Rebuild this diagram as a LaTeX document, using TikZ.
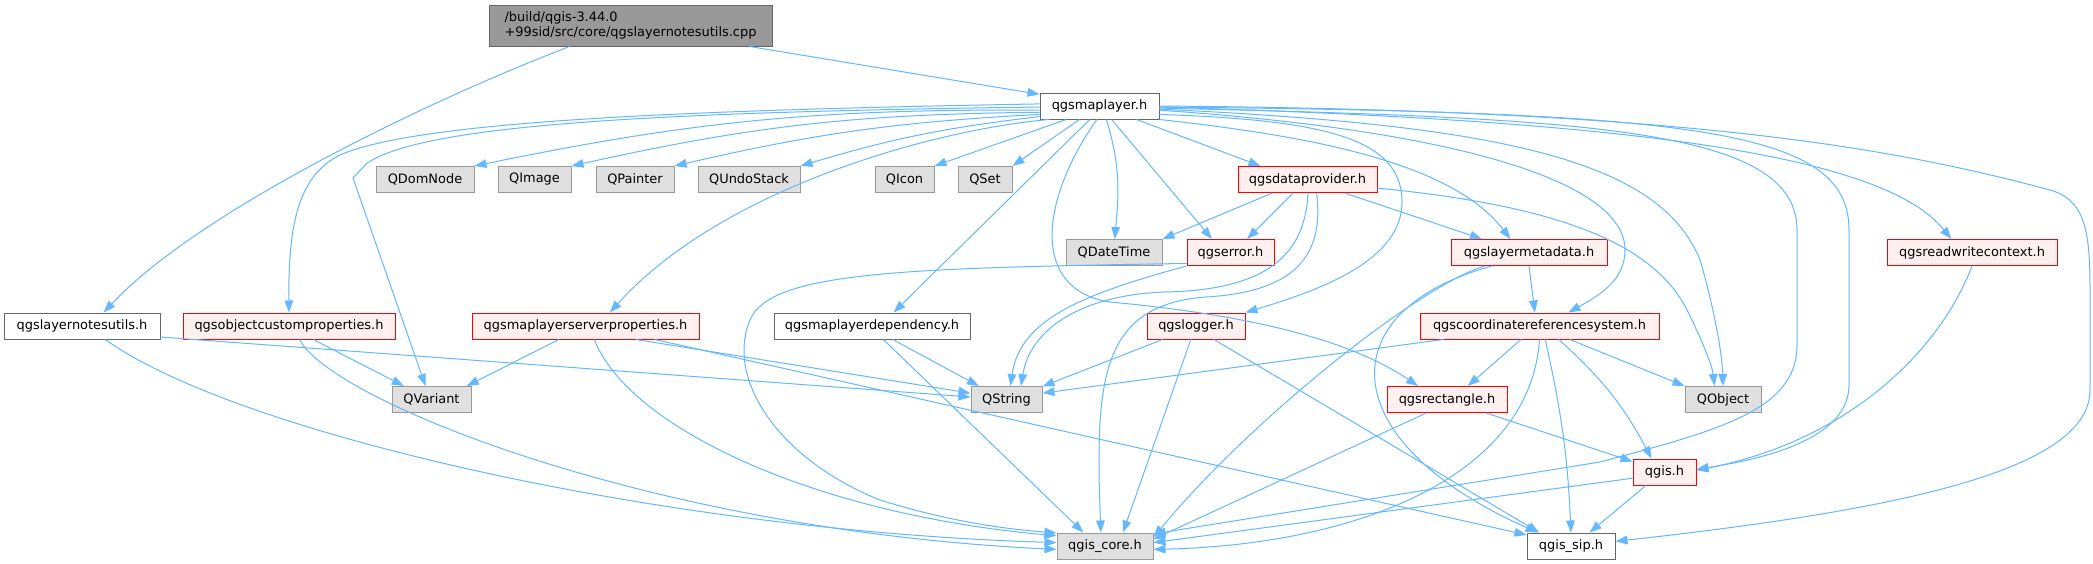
\documentclass[tikz,border=0pt]{standalone}
\usepackage{fontspec}
\setmainfont{DejaVu Sans}
\usepackage{xcolor}
\usetikzlibrary{arrows.meta}

\definecolor{kante}{HTML}{63B8FF}
\definecolor{grauFill}{HTML}{E0E0E0}
\definecolor{grauRand}{HTML}{999999}
\definecolor{rotFill}{HTML}{FFF0F0}
\definecolor{rotRand}{HTML}{FF0000}
\definecolor{weissRand}{HTML}{666666}
\definecolor{wurzelFill}{HTML}{999999}

\tikzset{
    datei/.style = {draw, line width=0.75pt, inner xsep=1pt, inner ysep=0pt, minimum height=19.5pt, font=\fontsize{9.7pt}{11.3pt}\selectfont},
    breite/.style = {minimum width=#1*0.75pt},
    grau/.style = {datei, draw=grauRand, fill=grauFill},
    rot/.style = {datei, draw=rotRand, fill=rotFill},
    weiss/.style = {datei, draw=weissRand, fill=white},
    wurzel/.style = {datei, draw=weissRand, fill=wurzelFill, align=left, minimum height=30.75pt},
    pfeil/.style = {draw=kante, line width=0.75pt, -{Triangle[length=9pt, width=6.5pt]}}
}

\begin{document}
\begin{tikzpicture}[x=0.75pt, y=-0.75pt]
    % Bildgröße
        \fill[white] (0, 0) rectangle (2093, 564);
        \useasboundingbox (0, 0) rectangle (2093, 564);

    % Quelldatei
        \node[wurzel, breite=283] (root) at (630.5, 25.5) {/build/qgis-3.44.0\\+99sid/src/core/qgslayernotesutils.cpp};

    % Ebene 1
        \node[weiss, breite=119] (maplayer) at (1099.5, 106) {qgsmaplayer.h};

    % Ebene 2
        \node[grau, breite=98] (QDomNode) at (425, 179.5) {QDomNode};
        \node[grau, breite=73] (QImage) at (534.5, 179.5) {QImage};
        \node[grau, breite=78] (QPainter) at (635, 179.5) {QPainter};
        \node[grau, breite=102] (QUndoStack) at (749, 179.5) {QUndoStack};
        \node[grau, breite=59] (QIcon) at (904.5, 179.5) {QIcon};
        \node[grau, breite=54] (QSet) at (985, 179.5) {QSet};
        \node[rot, breite=139] (dataprovider) at (1307.5, 179.5) {qgsdataprovider.h};

    % Ebene 3
        \node[grau, breite=96] (QDateTime) at (1114, 252.5) {QDateTime};
        \node[rot, breite=87] (error) at (1230.5, 252.5) {qgserror.h};
        \node[rot, breite=156] (layermeta) at (1529, 252.5) {qgslayermetadata.h};
        \node[rot, breite=170] (readwrite) at (1972, 252.5) {qgsreadwritecontext.h};

    % Ebene 4
        \node[weiss, breite=156] (notesutils) at (82, 326) {qgslayernotesutils.h};
        \node[rot, breite=212] (objcust) at (289, 326) {qgsobjectcustomproperties.h};
        \node[rot, breite=227] (serverprops) at (585.5, 326) {qgsmaplayerserverproperties.h};
        \node[weiss, breite=196] (dependency) at (872, 326) {qgsmaplayerdependency.h};
        \node[rot, breite=98] (logger) at (1196, 326) {qgslogger.h};
        \node[rot, breite=239] (crs) at (1539.5, 326) {qgscoordinatereferencesystem.h};

    % Ebene 5
        \node[grau, breite=79] (QVariant) at (431.5, 399.5) {QVariant};
        \node[grau, breite=71] (QString) at (1006.5, 399.5) {QString};
        \node[rot, breite=120] (rectangle) at (1447, 399.5) {qgsrectangle.h};
        \node[grau, breite=76] (QObject) at (1723, 399.5) {QObject};

    % Ebene 6
        \node[rot, breite=63] (qgis) at (1664.5, 472) {qgis.h};

    % Ebene 7
        \node[grau, breite=96] (core) at (1105, 546) {qgis\_core.h};
        \node[weiss, breite=88] (sip) at (1571, 546) {qgis\_sip.h};

    % Verbindungen der Quelldatei
        \draw[pfeil] (root.-10.7) -- (maplayer.169.5);
        \draw[pfeil] (root.199) .. controls (430, 100) and (200, 210) .. (notesutils.32);

    % Verbindungen von qgsmaplayer.h
        \draw[pfeil] (maplayer.184) to[bend right=6] (QDomNode.north east);
        \draw[pfeil] (maplayer.186) to[bend right=6] (QImage.north east);
        \draw[pfeil] (maplayer.188) to[bend right=5] (QPainter.north east);
        \draw[pfeil] (maplayer.190) to[bend right=5] (QUndoStack.north east);
        \draw[pfeil] (maplayer.202) -- (QIcon.north east);
        \draw[pfeil] (maplayer.214) -- (QSet.north east);
        \draw[pfeil] (maplayer.297) .. controls (1122, 170) and (1118, 200) .. (QDateTime.87);
        \draw[pfeil] (maplayer.-48) -- (error.144);
        \draw[pfeil] (maplayer.-20) -- (dataprovider.164);
        \draw[pfeil] (maplayer.south east) .. controls (1300, 135) and (1450, 160) .. (layermeta.144);
        \draw[pfeil] (maplayer.-1) .. controls (1600, 120) and (1880, 150) .. (readwrite.147);
        \draw[pfeil] (maplayer.178) .. controls (700, 110) and (420, 120) .. (340, 155) .. controls (300, 175) and (288, 220) .. (objcust.north);
        \draw[pfeil] (maplayer.181) .. controls (650, 112) and (420, 125) .. (366, 164) -- (353, 178) -- (QVariant.114);
        \draw[pfeil] (maplayer.195) .. controls (930, 130) and (720, 190) .. (serverprops.29);
        \draw[pfeil] (maplayer.234) -- (dependency.32);
        \draw[pfeil] (maplayer.-8) .. controls (1330, 120) and (1400, 140) .. (1402, 200) .. controls (1404, 260) and (1320, 290) .. (logger.north east);
        \draw[pfeil] (maplayer.-4) .. controls (1450, 130) and (1625, 180) .. (1625, 250) .. controls (1625, 280) and (1600, 295) .. (crs.25);
        \draw[pfeil] (maplayer.259) .. controls (1040, 200) and (1030, 290) .. (1110, 302) .. controls (1250, 315) and (1350, 340) .. (rectangle.155);
        \draw[pfeil] (maplayer.-3) .. controls (1500, 125) and (1660, 160) .. (1700, 260) .. controls (1712, 300) and (1722, 350) .. (QObject.north);
        \draw[pfeil] (maplayer.-2) .. controls (1600, 118) and (1797, 130) .. (1797, 230) -- (1797, 345) .. controls (1797, 410) and (1720, 430) .. (1600, 462) -- (core.14);
        \draw[pfeil] (maplayer.-1) .. controls (1700, 112) and (1849, 130) .. (1849, 230) -- (1849, 385) .. controls (1849, 430) and (1790, 455) .. (qgis.5);
        \draw[pfeil] (maplayer.east) .. controls (1700, 110) and (1900, 150) .. (2050, 190) .. controls (2085, 200) and (2090, 230) .. (2090, 290) -- (2090, 390) .. controls (2090, 470) and (1900, 510) .. (sip.6);

    % Verbindungen von qgsdataprovider.h
        \draw[pfeil] (dataprovider.201.6) -- (QDateTime.north east);
        \draw[pfeil] (dataprovider.223) -- (error.39);
        \draw[pfeil] (dataprovider.-20) -- (layermeta.164.5);
        \draw[pfeil] (dataprovider.-7) .. controls (1550, 205) and (1650, 240) .. (1686, 308) .. controls (1702, 340) and (1712, 365) .. (QObject.122);
        \draw[pfeil] (dataprovider.-88) .. controls (1305, 260) and (1260, 290) .. (1165, 292) .. controls (1080, 295) and (1030, 330) .. (QString.43);
        \draw[pfeil] (dataprovider.-56) .. controls (1325, 260) and (1290, 292) .. (1206, 297) .. controls (1100, 305) and (1095, 380) .. (core.107);

    % Verbindungen von qgserror.h
        \draw[pfeil] (error.south west) .. controls (1080, 295) and (1020, 320) .. (QString.74);
        \draw[pfeil] (error.194) .. controls (900, 268) and (770, 272) .. (750, 320) .. controls (725, 380) and (780, 460) .. (880, 500) .. controls (960, 525) and (1020, 530) .. (core.165);

    % Verbindungen von qgslayermetadata.h
        \draw[pfeil] (layermeta.south) -- (crs.109);
        \draw[pfeil] (layermeta.197) .. controls (1420, 285) and (1250, 420) .. (core.10);
        \draw[pfeil] (layermeta.200) .. controls (1330, 310) and (1330, 440) .. (sip.158);

    % Verbindungen von qgsreadwritecontext.h
        \draw[pfeil] (readwrite.south) .. controls (1940, 350) and (1850, 440) .. (qgis.3);

    % Verbindungen von qgslayernotesutils.h
        \draw[pfeil] (notesutils.-8.7) -- (QString.176);
        \draw[pfeil] (notesutils.-30) .. controls (230, 430) and (650, 530) .. (core.176);

    % Verbindungen von qgsobjectcustomproperties.h
        \draw[pfeil] (objcust.-29.5) -- (QVariant.154);
        \draw[pfeil] (objcust.-52) .. controls (330, 400) and (650, 530) .. (core.184);

    % Verbindungen von qgsmaplayerserverproperties.h
        \draw[pfeil] (serverprops.207) -- (QVariant.21);
        \draw[pfeil] (serverprops.-15) -- (QString.170);
        \draw[pfeil] (serverprops.-11) -- (sip.166);
        \draw[pfeil] (serverprops.-57) .. controls (630, 430) and (820, 515) .. (core.168);

    % Verbindungen von qgsmaplayerdependency.h
        \draw[pfeil] (dependency.-33) -- (QString.154);
        \draw[pfeil] (dependency.-50) -- (core.148);

    % Verbindungen von qgslogger.h
        \draw[pfeil] (logger.202) -- (QString.20);
        \draw[pfeil] (logger.249) -- (core.37);
        \draw[pfeil] (logger.-37) -- (sip.157);

    % Verbindungen von qgscoordinatereferencesystem.h
        \draw[pfeil] (crs.188.4) -- (QString.10);
        \draw[pfeil] (crs.216.6) -- (rectangle.33);
        \draw[pfeil] (crs.-24.5) -- (QObject.north west);
        \draw[pfeil] (crs.-35) to[bend left=10] (qgis.134);
        \draw[pfeil] (crs.-67) to[bend left=5] (sip.north);
        \draw[pfeil] (crs.south) .. controls (1530, 480) and (1350, 545) .. (core.-4);

    % Verbindungen von qgsrectangle.h
        \draw[pfeil] (rectangle.-19.7) -- (qgis.162);
        \draw[pfeil] (rectangle.213) -- (core.8);

    % Verbindungen von qgis.h
        \draw[pfeil] (qgis.191) -- (core.4);
        \draw[pfeil] (qgis.216.6) -- (sip.36);
\end{tikzpicture}
\end{document}
